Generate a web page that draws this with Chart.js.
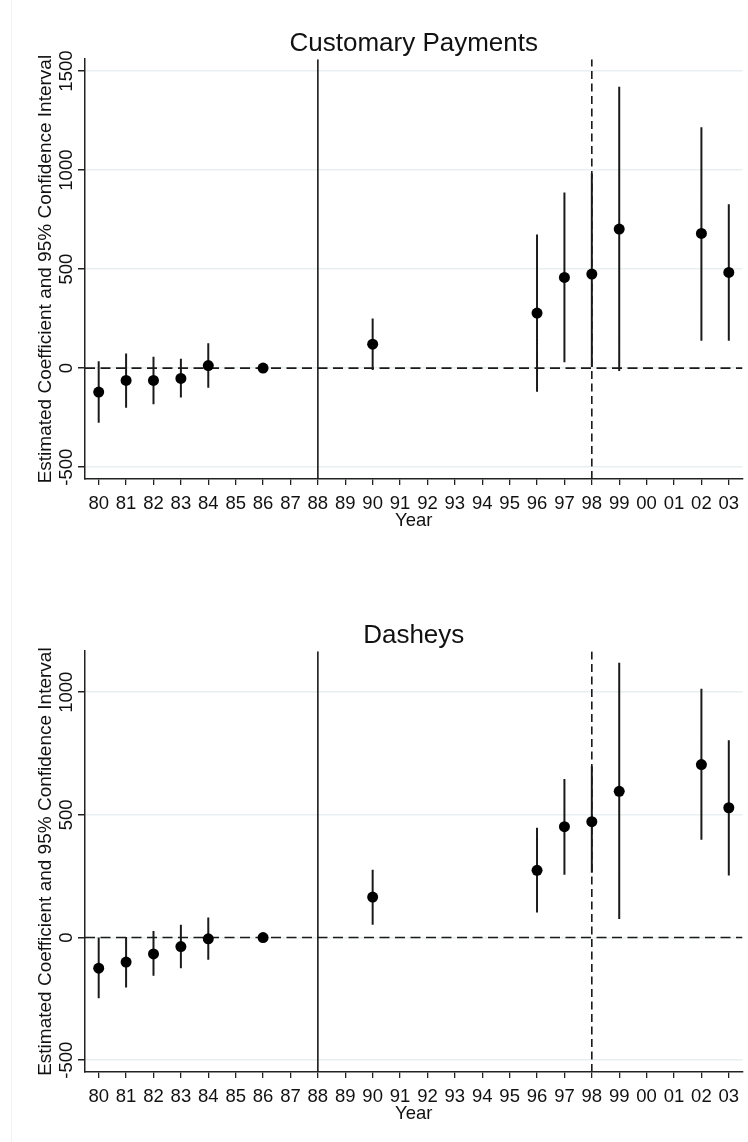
<!DOCTYPE html>
<html>
<head>
<meta charset="utf-8">
<script src="https://cdn.jsdelivr.net/npm/chart.js@4.4.1/dist/chart.umd.min.js"></script>
<style>
  html, body { margin: 0; padding: 0; background: #fff; }
  #page { position: relative; width: 748px; height: 1142px; overflow: hidden; }
  #edge { position: absolute; left: 11px; top: 0; width: 1px; height: 1142px; background: #f2f2f2; }
  canvas { position: absolute; left: 0; }
</style>
</head>
<body>
<div id="page">
  <div id="edge"></div>
  <canvas id="topChart" width="748" height="592" style="top:0"></canvas>
  <canvas id="bottomChart" width="748" height="550" style="top:592px"></canvas>
</div>
<script>
// Event-study coefficients with 95% CIs (null = no estimate)

const yearLabels = ['80', '81', '82', '83', '84', '85', '86', '87', '88', '89', '90', '91',
                    '92', '93', '94', '95', '96', '97', '98', '99', '00', '01', '02', '03'];
const solidLineYear = '88';
const dashedLineYear = '98';

// Customary Payments
const customaryCoef  = [-121, -62, -62, -52, 13, null, 0, null, null, null, 121, null,
                        null, null, null, null, 278, 458, 475, 702, null, null, 680, 483];
const customaryLower = [-276, -200, -182, -148, -99, null, null, null, null, null, -10, null,
                        null, null, null, null, -120, 29, 5, -15, null, null, 138, 138];
const customaryUpper = [35, 74, 57, 47, 125, null, null, null, null, null, 251, null,
                        null, null, null, null, 675, 887, 983, 1421, null, null, 1216, 827];
const customaryRange = [-560, 1560];
const customaryTicks = [-500, 0, 500, 1000, 1500];

// Dasheys
const dasheysCoef  = [-125, -100, -67, -37, -5, null, 0, null, null, null, 165, null,
                      null, null, null, null, 274, 452, 472, 596, null, null, 705, 529];
const dasheysLower = [-247, -204, -156, -125, -91, null, null, null, null, null, 52, null,
                      null, null, null, null, 102, 256, 264, 76, null, null, 399, 253];
const dasheysUpper = [0, 2, 27, 52, 82, null, null, null, null, null, 276, null,
                      null, null, null, null, 447, 646, 698, 1120, null, null, 1014, 804];
const dasheysRange = [-548, 1167];
const dasheysTicks = [-500, 0, 500, 1000];

const FONT = '"Liberation Sans", Arial, Helvetica, sans-serif';
const INK = '#111111';

// Stata style: y tick labels turned 90 degrees, reading bottom to top
const rotatedYTicks = {
    id: 'rotatedYTicks',
    afterDraw(chart) {
        const yScale = chart.scales.y;
        const ctx = chart.ctx;
        ctx.save();
        ctx.font = '18.5px ' + FONT;
        ctx.fillStyle = INK;
        ctx.textAlign = 'center';
        ctx.textBaseline = 'alphabetic';
        yScale.ticks.forEach(tick => {
            const py = yScale.getPixelForValue(tick.value);
            ctx.save();
            ctx.translate(yScale.right - 13.5, py);
            ctx.rotate(-Math.PI / 2);
            ctx.fillText(String(tick.value), 0, 0);
            ctx.restore();
        });
        ctx.restore();
    }
};

function pointsFrom(values) {
    const pts = [];
    values.forEach((v, i) => {
        if (v !== null) pts.push({ x: i, y: v });
    });
    return pts;
}

// each interval is a two-point segment, separated by a null so the line breaks
function intervalsFrom(lower, upper) {
    const pts = [];
    lower.forEach((lo, i) => {
        if (lo === null || upper[i] === null) return;
        pts.push({ x: i, y: lo }, { x: i, y: upper[i] }, { x: i, y: null });
    });
    return pts;
}

function createPlot(canvasId, title, coef, lower, upper, range, yTicks, bottomPad) {
    const ctx = document.getElementById(canvasId).getContext('2d');
    const xMin = -0.5;
    const xMax = yearLabels.length - 0.5;
    const solidX = yearLabels.indexOf(solidLineYear);
    const dashedX = yearLabels.indexOf(dashedLineYear);

    return new Chart(ctx, {
        type: 'scatter',
        data: {
            datasets: [
                {
                    label: 'Estimate',
                    data: pointsFrom(coef),
                    backgroundColor: '#000',
                    borderColor: '#000',
                    pointRadius: 5.5,
                    pointBorderWidth: 0,
                    order: 0
                },
                {
                    type: 'line',
                    label: '95% CI',
                    data: intervalsFrom(lower, upper),
                    borderColor: '#1a1a1a',
                    borderWidth: 2,
                    pointRadius: 0,
                    spanGaps: false,
                    order: 1
                },
                {
                    type: 'line',
                    label: 'zero',
                    data: [{ x: xMin, y: 0 }, { x: xMax, y: 0 }],
                    borderColor: '#1a1a1a',
                    borderWidth: 1.6,
                    borderDash: [10, 5.5],
                    pointRadius: 0,
                    order: 2
                },
                {
                    type: 'line',
                    label: solidLineYear,
                    data: [{ x: solidX, y: range[0] }, { x: solidX, y: range[1] }],
                    borderColor: '#1a1a1a',
                    borderWidth: 1.6,
                    pointRadius: 0,
                    order: 2
                },
                {
                    type: 'line',
                    label: dashedLineYear,
                    data: [{ x: dashedX, y: range[0] }, { x: dashedX, y: range[1] }],
                    borderColor: '#1a1a1a',
                    borderWidth: 1.6,
                    borderDash: [8, 4.5],
                    pointRadius: 0,
                    order: 2
                }
            ]
        },
        options: {
            responsive: false,
            animation: false,
            devicePixelRatio: 1,
            layout: { padding: { left: 0, right: 5, top: 0, bottom: bottomPad } },
            scales: {
                x: {
                    type: 'linear',
                    min: xMin,
                    max: xMax,
                    afterBuildTicks: scale => {
                        scale.ticks = yearLabels.map((_, i) => ({ value: i }));
                    },
                    afterFit: scale => { scale.height = 62; },
                    border: { display: true, color: '#222', width: 1.5 },
                    grid: {
                        drawOnChartArea: false,
                        drawTicks: true,
                        tickLength: 6,
                        tickColor: '#222',
                        lineWidth: 1.3
                    },
                    ticks: {
                        autoSkip: false,
                        maxRotation: 0,
                        minRotation: 0,
                        padding: 8,
                        color: INK,
                        font: { family: FONT, size: 18.5 },
                        callback: v => yearLabels[v] ?? ''
                    },
                    title: {
                        display: true,
                        text: 'Year',
                        color: INK,
                        font: { family: FONT, size: 18.5 },
                        padding: { top: 0, bottom: 8.5 }
                    }
                },
                y: {
                    min: range[0],
                    max: range[1],
                    afterBuildTicks: scale => {
                        scale.ticks = yTicks.map(v => ({ value: v }));
                    },
                    afterFit: scale => { scale.width = 85; },
                    border: { display: true, color: '#222', width: 1.5 },
                    grid: {
                        color: '#e7eff0',
                        lineWidth: 1.5,
                        drawTicks: true,
                        tickLength: 7,
                        tickColor: '#222'
                    },
                    ticks: {
                        display: false
                    },
                    title: {
                        display: true,
                        text: 'Estimated Coefficient and 95% Confidence Interval',
                        color: INK,
                        font: { family: FONT, size: 19 },
                        padding: { top: 34, bottom: 0 }
                    }
                }
            },
            plugins: {
                legend: { display: false },
                tooltip: { enabled: false },
                title: {
                    display: true,
                    text: title,
                    fullSize: false,
                    color: INK,
                    font: { family: FONT, size: 26, weight: 'normal' },
                    padding: { top: 28, bottom: 0 }
                }
            }
        },
        plugins: [rotatedYTicks]
    });
}

createPlot('topChart', 'Customary Payments', customaryCoef, customaryLower, customaryUpper,
           customaryRange, customaryTicks, 51);
createPlot('bottomChart', 'Dasheys', dasheysCoef, dasheysLower, dasheysUpper,
           dasheysRange, dasheysTicks, 8);
</script>
</body>
</html>
